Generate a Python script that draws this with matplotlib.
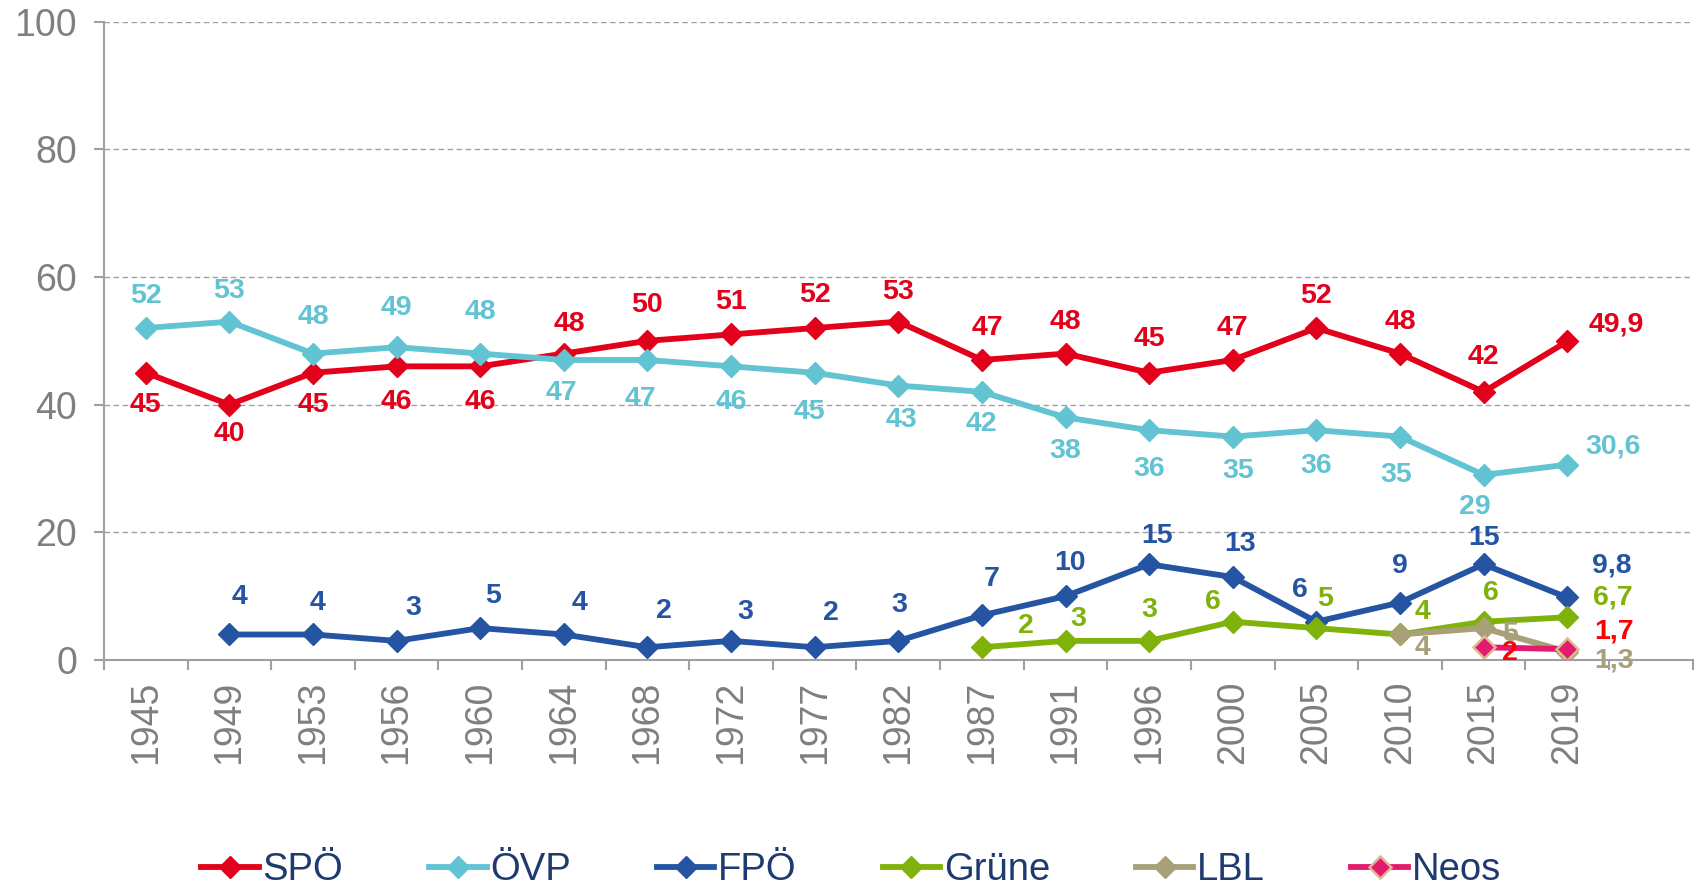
import numpy as np
import matplotlib
matplotlib.use('Agg')
import matplotlib.pyplot as plt

plt.rcParams['font.family'] = ['Liberation Sans', 'DejaVu Sans']

years = ['1945', '1949', '1953', '1956', '1960', '1964', '1968', '1972', '1977',
         '1982', '1987', '1991', '1996', '2000', '2005', '2010', '2015', '2019']
nan = np.nan
spoe = [45, 40, 45, 46, 46, 48, 50, 51, 52, 53, 47, 48, 45, 47, 52, 48, 42, 49.9]
oevp = [52, 53, 48, 49, 48, 47, 47, 46, 45, 43, 42, 38, 36, 35, 36, 35, 29, 30.6]
fpoe = [nan, 4, 4, 3, 5, 4, 2, 3, 2, 3, 7, 10, 15, 13, 6, 9, 15, 9.8]
gruene = [nan] * 10 + [2, 3, 3, 6, 5, 4, 6, 6.7]
lbl = [nan] * 15 + [4, 5, 1.3]
neos = [nan] * 16 + [2, 1.7]

# label offsets in points (dx, dy), one per non-empty value
off_spoe = [(0, -23), (0, -21), (0, -23), (0, -26), (0, -26), (4, 21), (0, 26), (0, 23), (0, 24),
            (0, 21), (4, 23), (0, 23), (0, 24), (0, 23), (0, 23), (0, 23), (0, 25), (35, 12)]
off_oevp = [(0, 23), (0, 22), (0, 26), (0, 28), (0, 30), (-2, -24), (-5, -28), (0, -26), (-4, -28),
            (2, -25), (0, -23), (0, -24), (0, -28), (4, -25), (0, -26), (-3, -28), (-6, -23), (33, 13)]
off_fpoe = [(7, 27), (3, 23), (12, 24), (9, 23), (11, 23), (12, 26), (10, 21), (12, 25), (1, 26),
            (7, 26), (3, 24), (6, 20), (5, 24), (-12, 23), (0, 26), (0, 19), (32, 23)]
off_gruene = [(32, 15), (9, 16), (0, 22), (-14, 14), (6, 21), (16, 16), (5, 21), (33, 14)]
off_lbl = [(16, -10), (19, -4), (34, -6)]
off_neos = [(19, -4), (34, 13)]

series = [
    ('SPÖ', spoe, '#E2001A', '#E2001A', off_spoe, '#E2001A'),
    ('ÖVP', oevp, '#62C3D3', '#62C3D3', off_oevp, '#62C3D3'),
    ('FPÖ', fpoe, '#2555A2', '#2555A2', off_fpoe, '#2555A2'),
    ('Grüne', gruene, '#7FB20A', '#7FB20A', off_gruene, '#7FB20A'),
    ('LBL', lbl, '#A8A078', '#A8A078', off_lbl, '#A8A078'),
    ('Neos', neos, '#E31B6E', '#DDBA90', off_neos, '#FF0000'),
]

fig = plt.figure(figsize=(16.96, 8.85), dpi=100)
ax = fig.add_axes([0.0613, 0.2542, 0.9367, 0.7214])
x = np.arange(len(years))

for name, vals, col, edge, offs, lcol in series:
    v = np.array(vals, dtype=float)
    ax.plot(x, v, color=col, lw=4.2, marker='D', ms=11, mfc=col, mec=edge,
            mew=1.8 if edge != col else 1, label=name, solid_joinstyle='round')
    k = 0
    for xi, yi in zip(x, v):
        if np.isnan(yi):
            continue
        txt = str(int(yi)) if yi == int(yi) else str(yi).replace('.', ',')
        ax.annotate(txt, (xi, yi), xytext=offs[k], textcoords='offset points',
                    ha='center', va='center', fontsize=20.5, fontweight='bold', color=lcol)
        k += 1

ax.set_xlim(-0.5, 18.5)
ax.set_ylim(0, 100)
ax.set_yticks([0, 20, 40, 60, 80, 100])
ax.yaxis.grid(True, ls=(0, (4, 2.5)), color='#A0A0A0', lw=1)
ax.set_axisbelow(True)
ax.set_xticks(x)
ax.set_xticklabels(years, rotation=90)
ax.set_xticks(np.arange(-0.5, 19, 1), minor=True)
ax.tick_params(axis='x', which='major', length=0, pad=15, labelsize=27, labelcolor='#7F7F7F')
ax.tick_params(axis='x', which='minor', length=7.5, width=1.5, color='#A0A0A0')
ax.tick_params(axis='y', length=7.5, width=1.5, color='#A0A0A0', pad=12,
               labelsize=27, labelcolor='#7F7F7F')
for s in ['top', 'right']:
    ax.spines[s].set_visible(False)
for s in ['left', 'bottom']:
    ax.spines[s].set_color('#A0A0A0')
    ax.spines[s].set_linewidth(1.5)

leg = fig.legend(loc='center', bbox_to_anchor=(0.502, 0.017), ncol=6, frameon=False,
                 handlelength=1.5, handletextpad=0.1, columnspacing=2.25,
                 prop={'size': 27.5})
for t in leg.get_texts():
    t.set_color('#1F3A6E')

fig.savefig('out.png', dpi=100)
